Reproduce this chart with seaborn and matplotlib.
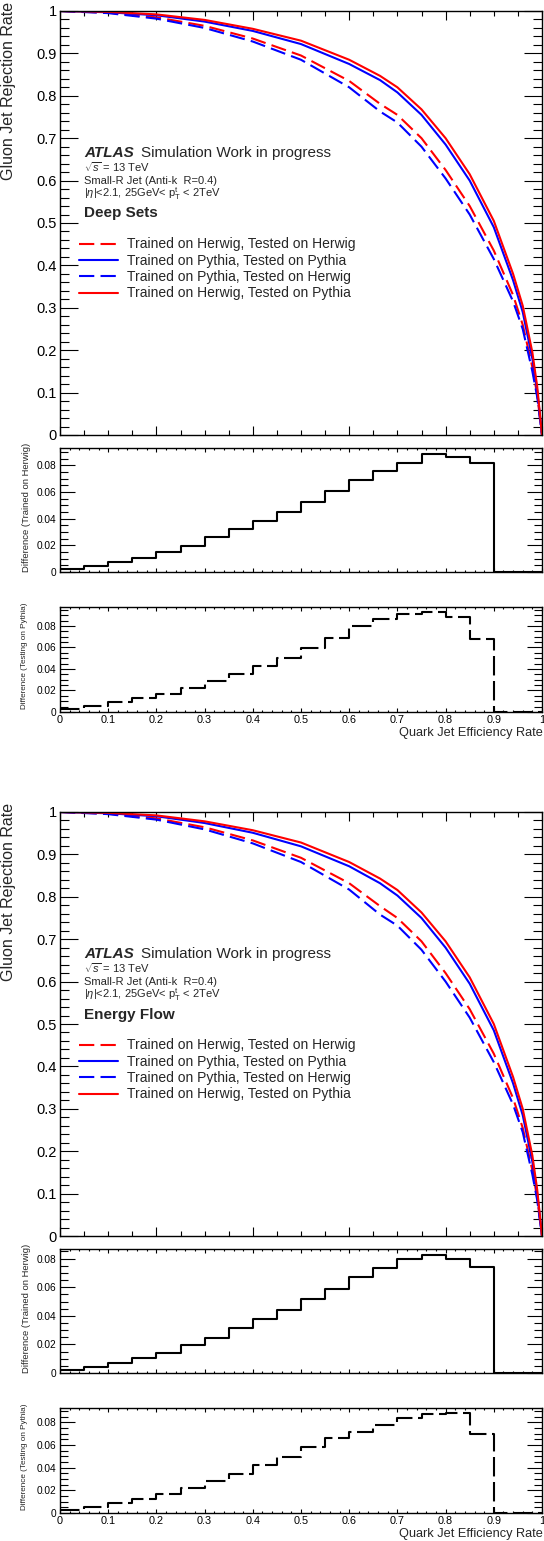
import numpy as np
import pandas as pd
import matplotlib
matplotlib.use("Agg")
import matplotlib.pyplot as plt
from matplotlib.ticker import MultipleLocator, FuncFormatter
from matplotlib.lines import Line2D
import seaborn as sns

sns.set_theme(style="ticks")
plt.rcParams["font.family"] = ["Liberation Sans", "DejaVu Sans"]
plt.rcParams["mathtext.fontset"] = "custom"
plt.rcParams["mathtext.rm"] = "Liberation Sans"
plt.rcParams["mathtext.it"] = "Liberation Sans:italic"
plt.rcParams["mathtext.bf"] = "Liberation Sans:bold"
plt.rcParams["lines.scale_dashes"] = False

# ---------------- data ----------------
quark_eff = [0.0, 0.1, 0.2, 0.3, 0.4, 0.5, 0.6, 0.664, 0.7, 0.75, 0.8, 0.85, 0.9, 0.94, 0.96, 0.98, 0.99, 1.0]

ds_hh = [1.0, 0.996, 0.985, 0.965, 0.935, 0.895, 0.835, 0.781, 0.755, 0.700, 0.625, 0.540, 0.435, 0.330, 0.260, 0.160, 0.095, 0.0]
ds_pp = [1.0, 0.997, 0.990, 0.975, 0.953, 0.922, 0.875, 0.837, 0.808, 0.755, 0.685, 0.600, 0.490, 0.365, 0.290, 0.180, 0.105, 0.0]
ds_ph = [1.0, 0.995, 0.982, 0.960, 0.928, 0.885, 0.820, 0.763, 0.737, 0.680, 0.605, 0.520, 0.415, 0.315, 0.250, 0.150, 0.090, 0.0]
ds_hp = [1.0, 0.998, 0.992, 0.979, 0.958, 0.930, 0.885, 0.847, 0.820, 0.768, 0.700, 0.615, 0.505, 0.380, 0.305, 0.195, 0.115, 0.0]

ef_hh = [1.0, 0.996, 0.985, 0.964, 0.933, 0.892, 0.832, 0.778, 0.750, 0.695, 0.620, 0.535, 0.430, 0.325, 0.255, 0.155, 0.090, 0.0]
ef_pp = [1.0, 0.997, 0.990, 0.974, 0.951, 0.919, 0.872, 0.832, 0.803, 0.750, 0.680, 0.595, 0.485, 0.360, 0.285, 0.175, 0.100, 0.0]
ef_ph = [1.0, 0.995, 0.982, 0.959, 0.926, 0.882, 0.817, 0.758, 0.732, 0.675, 0.600, 0.515, 0.410, 0.310, 0.245, 0.145, 0.085, 0.0]
ef_hp = [1.0, 0.998, 0.992, 0.978, 0.957, 0.928, 0.882, 0.843, 0.816, 0.763, 0.695, 0.610, 0.500, 0.375, 0.300, 0.190, 0.110, 0.0]

bin_edges = [round(0.05 * i, 2) for i in range(21)]

ds_diff_trained_herwig = [0.0025, 0.0048, 0.0075, 0.0108, 0.0148, 0.0198, 0.0260, 0.0320, 0.0385, 0.0450,
                          0.0523, 0.0605, 0.0688, 0.0760, 0.0820, 0.0885, 0.0860, 0.0815, 0.0, 0.0]
ds_diff_testing_pythia = [0.0031, 0.0052, 0.0089, 0.0126, 0.0169, 0.0225, 0.0289, 0.0351, 0.0425, 0.0505,
                          0.0594, 0.0692, 0.0797, 0.0865, 0.0910, 0.0930, 0.0883, 0.0680, 0.0, 0.0]
ef_diff_trained_herwig = [0.0021, 0.0044, 0.0072, 0.0102, 0.0142, 0.0198, 0.0247, 0.0314, 0.0377, 0.0442,
                          0.0519, 0.0590, 0.0673, 0.0733, 0.0798, 0.0826, 0.0795, 0.0742, 0.0, 0.0]
ef_diff_testing_pythia = [0.0030, 0.0050, 0.0088, 0.0125, 0.0170, 0.0225, 0.0285, 0.0345, 0.0420, 0.0495,
                          0.0579, 0.0665, 0.0716, 0.0780, 0.0842, 0.0877, 0.0883, 0.0700, 0.0, 0.0]

series_labels = ["Trained on Herwig, Tested on Herwig",
                 "Trained on Pythia, Tested on Pythia",
                 "Trained on Pythia, Tested on Herwig",
                 "Trained on Herwig, Tested on Pythia"]
series_colors = ["#ff0000", "#0000ff", "#0000ff", "#ff0000"]
series_dashed = [True, False, True, False]

# ---------------- layout helpers ----------------
W, H = 544, 1541
fig = plt.figure(figsize=(W / 100, H / 100), dpi=100)


def px_axes(x0, y0, x1, y1):
    return fig.add_axes([x0 / W, 1 - y1 / H, (x1 - x0) / W, (y1 - y0) / H])


def ftext(x, y, s, **kw):
    fig.text(x / W, 1 - y / H, s, **kw)


fmt = FuncFormatter(lambda v, p: "%g" % round(v, 4))
DASH = (0, (11, 4.5))
HDASH = (0, (14, 4))


def style_axes(ax, ymaj, ymin, xmaj, xmin, ylen, xlen, ysize, xlabels, xsize=8):
    for s in ax.spines.values():
        s.set_linewidth(1.0)
        s.set_color("black")
    ax.xaxis.set_major_locator(MultipleLocator(xmaj))
    ax.xaxis.set_minor_locator(MultipleLocator(xmin))
    ax.yaxis.set_major_locator(MultipleLocator(ymaj))
    ax.yaxis.set_minor_locator(MultipleLocator(ymin))
    ax.tick_params(which="both", direction="in", top=True, right=True, colors="black", width=0.8)
    ax.tick_params(axis="y", which="major", length=ylen, labelsize=ysize, pad=2.5)
    ax.tick_params(axis="y", which="minor", length=ylen * 0.5)
    ax.tick_params(axis="x", which="major", length=xlen, labelsize=xsize, pad=2.5)
    ax.tick_params(axis="x", which="minor", length=xlen * 0.5)
    ax.yaxis.set_major_formatter(fmt)
    if xlabels:
        ax.xaxis.set_major_formatter(fmt)
    else:
        ax.set_xticklabels([])
    ax.set_xlabel("")
    ax.set_ylabel("")
    ax.grid(False)


def draw_block(off, curves, diff1, diff2, method):
    # ROC curves
    ax = px_axes(60, 11 + off, 542, 435 + off)
    frames = []
    for lab, vals in zip(series_labels, curves):
        frames.append(pd.DataFrame({"eff": quark_eff, "rej": vals, "sample": lab}))
    df = pd.concat(frames, ignore_index=True)
    dash_map = {lab: ((11, 4.5) if d else "") for lab, d in zip(series_labels, series_dashed)}
    sns.lineplot(data=df, x="eff", y="rej", hue="sample", style="sample",
                 hue_order=series_labels, style_order=series_labels,
                 palette=dict(zip(series_labels, series_colors)), dashes=dash_map,
                 estimator=None, sort=False, linewidth=1.5, legend=False, ax=ax)
    ax.set_xlim(0, 1)
    ax.set_ylim(0, 1)
    style_axes(ax, 0.1, 0.02, 0.2, 0.05, 13, 6.5, 10.5, False)

    handles = [Line2D([], [], color=c, lw=1.5, linestyle=(DASH if d else "-"))
               for c, d in zip(series_colors, series_dashed)]
    ax.legend(handles, series_labels, loc="upper left", bbox_to_anchor=(0.039, 0.466),
              frameon=False, fontsize=10, handlelength=2.8, handletextpad=0.65,
              labelspacing=0.17, borderpad=0, borderaxespad=0)

    ftext(84, 157 + off, "ATLAS", fontsize=11, fontweight="bold", fontstyle="italic", va="baseline")
    ftext(141, 157 + off, "Simulation Work in progress", fontsize=11, va="baseline")
    ftext(84, 172 + off, r"$\sqrt{s}$ = 13 TeV", fontsize=8.0, va="baseline")
    ftext(84, 184 + off, "Small-R Jet (Anti-k  R=0.4)", fontsize=8.0, va="baseline")
    ftext(84, 197 + off, r"|$\eta$|<2.1, 25GeV< p$_{\mathrm{T}}^{\mathrm{t}}$ < 2TeV", fontsize=8.0, va="baseline")
    ftext(84, 217.5 + off, method, fontsize=11, fontweight="bold", va="baseline")
    ftext(9, 2 + off, "Gluon Jet Rejection Rate", fontsize=11.5, rotation=90, ha="center", va="top")

    # difference, trained on Herwig
    ax1 = px_axes(60, 448 + off, 542, 572 + off)
    sns.lineplot(x=bin_edges, y=diff1 + [diff1[-1]], drawstyle="steps-post", color="black",
                 linewidth=1.5, estimator=None, sort=False, ax=ax1)
    ax1.set_xlim(0, 1)
    ax1.set_ylim(0, max(diff1) * 1.05)
    style_axes(ax1, 0.02, 0.005, 0.1, 0.02, 11, 3, 7.3, False)
    ftext(27, 443 + off, "Difference (Trained on Herwig)", fontsize=6.8, rotation=90, ha="center", va="top")

    # difference, testing on Pythia
    ax2 = px_axes(60, 607 + off, 542, 712 + off)
    sns.lineplot(x=bin_edges, y=diff2 + [diff2[-1]], drawstyle="steps-post", color="black",
                 linewidth=1.5, linestyle=HDASH, estimator=None, sort=False, ax=ax2)
    ax2.set_xlim(0, 1)
    ax2.set_ylim(0, max(diff2) * 1.05)
    style_axes(ax2, 0.02, 0.005, 0.1, 0.02, 11, 3, 7.3, True, xsize=7.8)
    ftext(25, 603 + off, "Difference (Testing on Pythia)", fontsize=5.9, rotation=90, ha="center", va="top")
    ftext(543, 733 + off, "Quark Jet Efficiency Rate", fontsize=9.2, ha="right", va="center")


draw_block(0, [ds_hh, ds_pp, ds_ph, ds_hp], ds_diff_trained_herwig, ds_diff_testing_pythia, "Deep Sets")
draw_block(801, [ef_hh, ef_pp, ef_ph, ef_hp], ef_diff_trained_herwig, ef_diff_testing_pythia, "Energy Flow")

fig.savefig("out.png", dpi=100)
